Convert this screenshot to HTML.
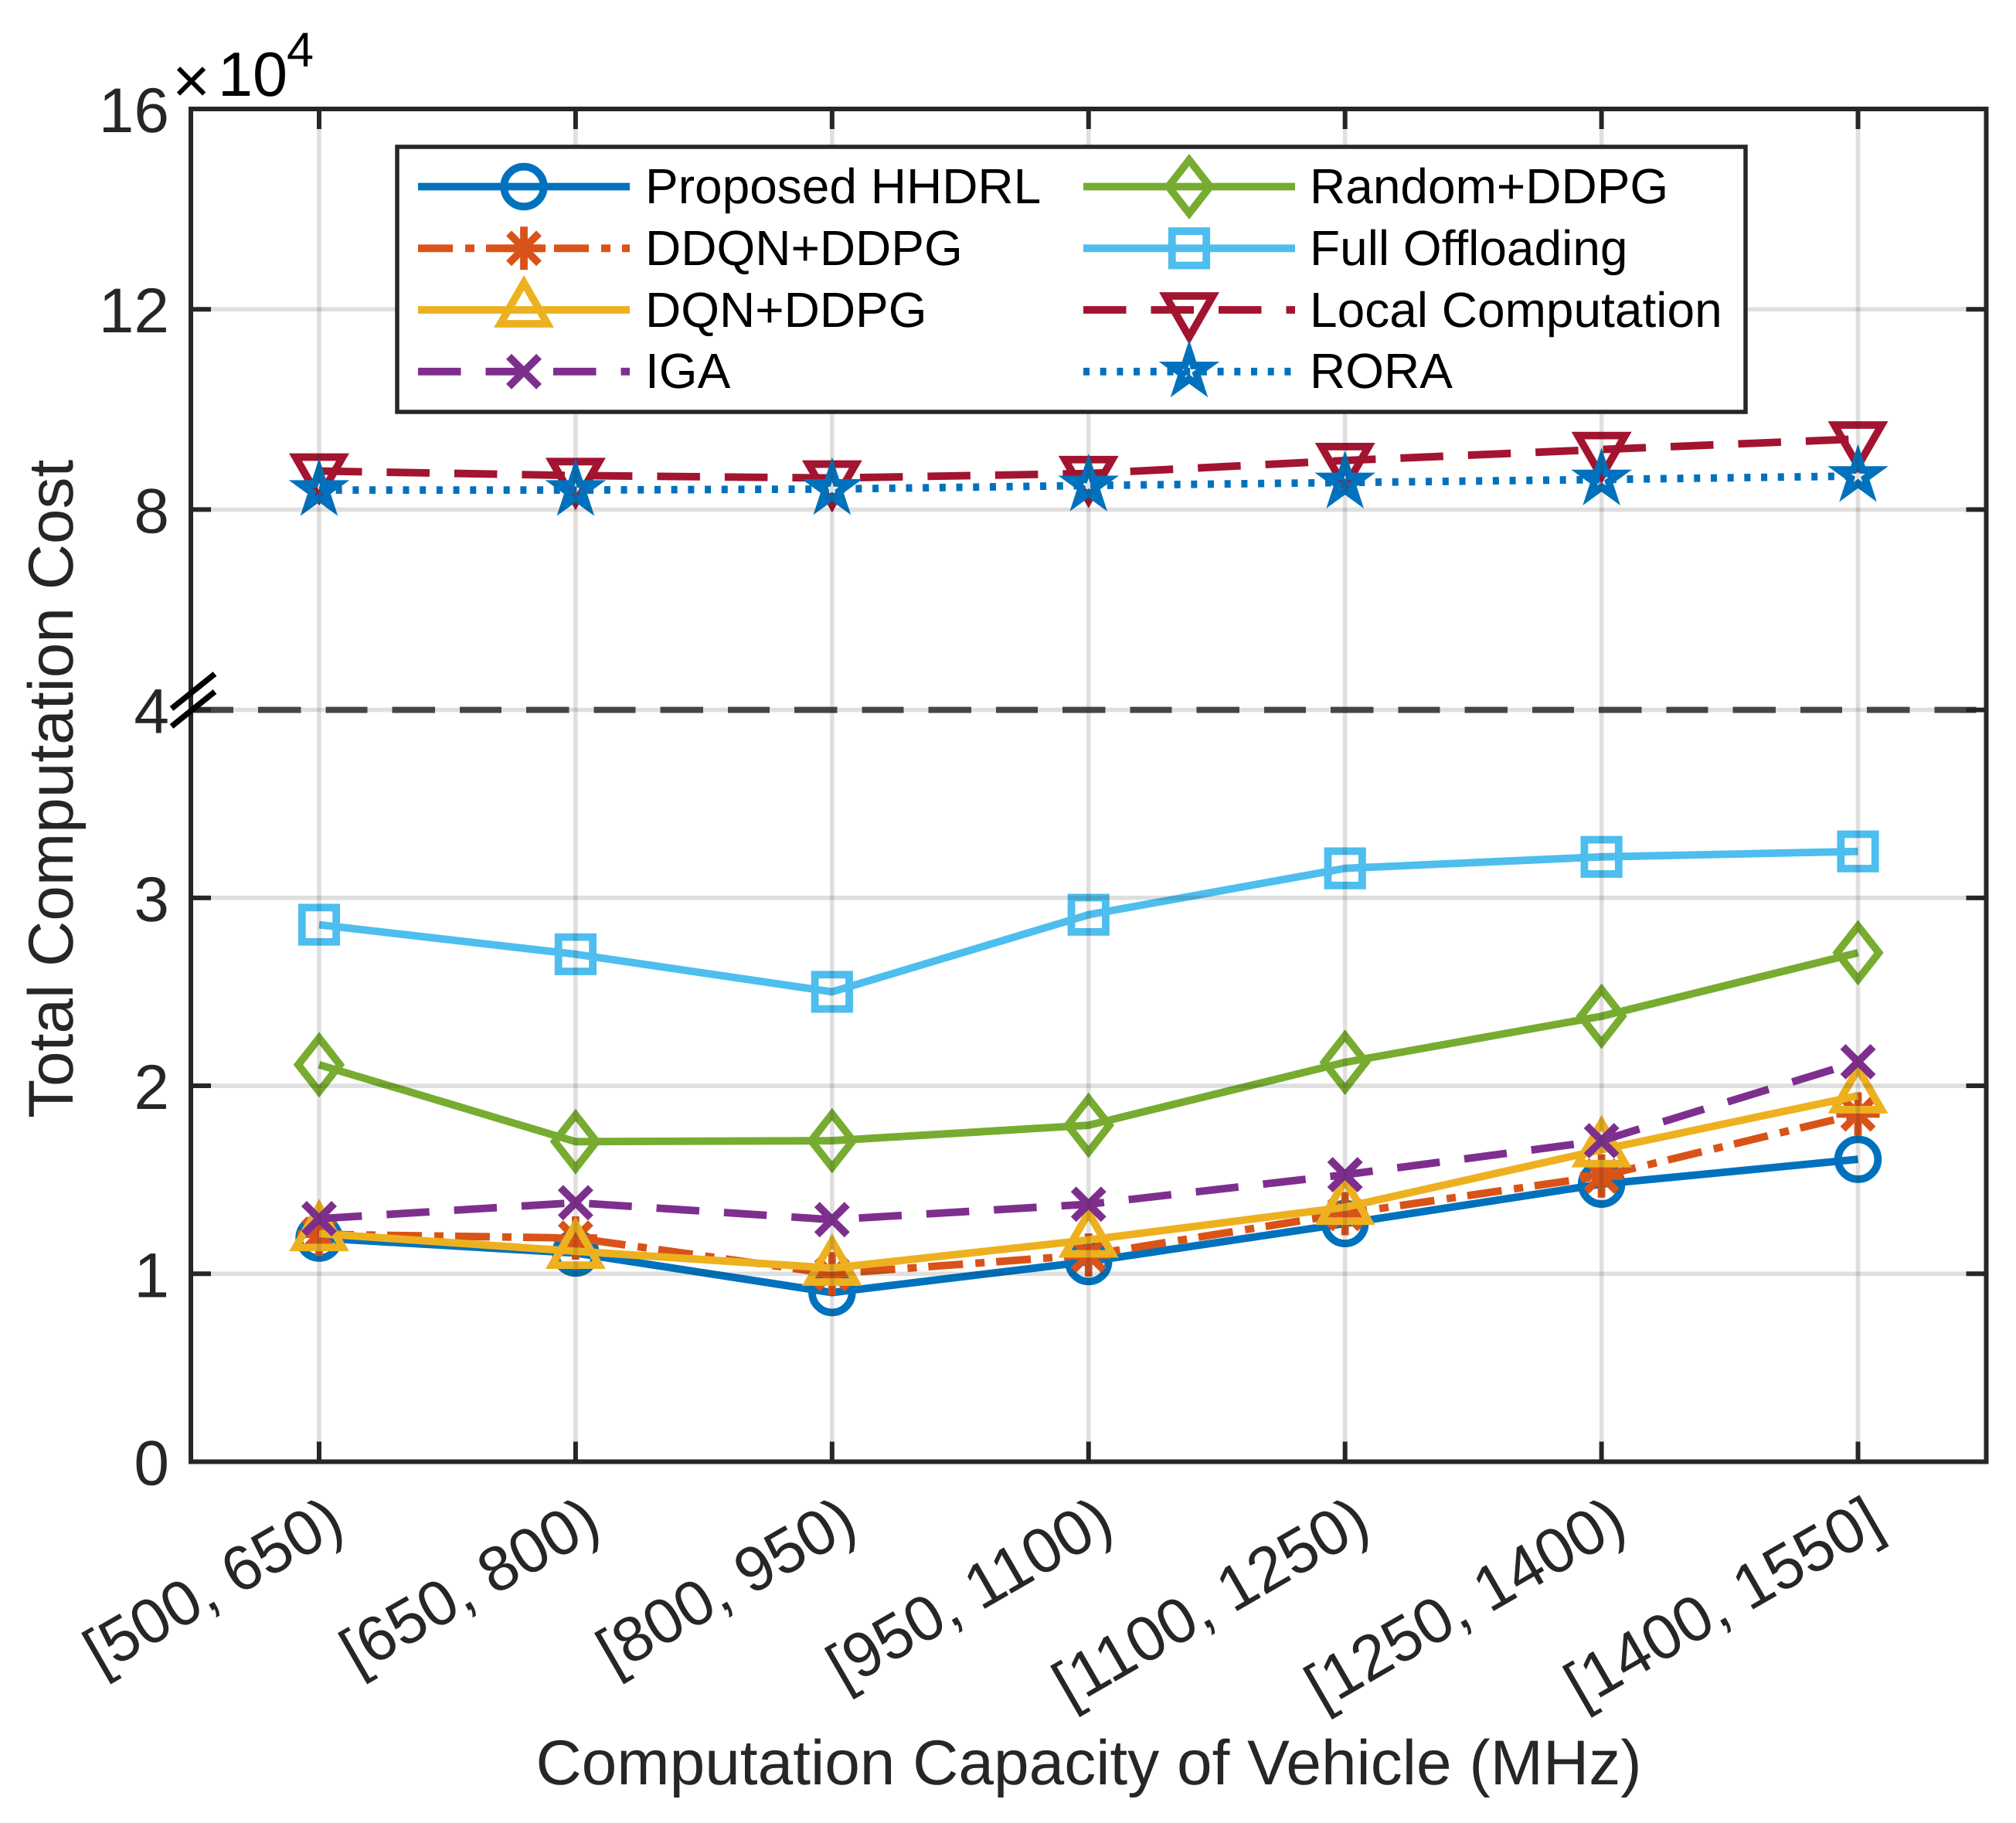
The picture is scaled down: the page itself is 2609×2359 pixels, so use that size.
<!DOCTYPE html>
<html lang="en">
<head>
<meta charset="utf-8">
<title>Total Computation Cost vs Computation Capacity of Vehicle</title>
<style>
html,body{margin:0;padding:0;background:#fff;width:2609px;height:2359px;overflow:hidden}
svg{display:block}
text{font-family:"Liberation Sans",Arial,sans-serif;text-rendering:geometricPrecision}
</style>
</head>
<body>
<svg id="chart" xmlns="http://www.w3.org/2000/svg" width="2609" height="2359" viewBox="0 0 2609 2359">
  <rect x="0" y="0" width="2609" height="2359" fill="#ffffff"/>
  <g id="marks"></g>
  <g id="grid"></g>
  <g id="axes"></g>
  <g id="tick-labels" fill="#262626" font-size="82"></g>

  <g fill="#000000">
    <text x="223" y="133" font-size="84">×</text>
    <text x="282" y="124" font-size="81">10</text>
    <text x="371" y="86" font-size="63">4</text>
  </g>
  <text transform="translate(94 1447) rotate(-90)" text-anchor="start" font-size="82" fill="#262626">Total Computation Cost</text>
  <text x="1409" y="2309" text-anchor="middle" font-size="82" fill="#262626">Computation Capacity of Vehicle (MHz)</text>

  <g>
    <rect x="514" y="190" width="1745" height="343" fill="#ffffff" stroke="#262626" stroke-width="5.5"/>
    <g id="legend-samples"></g>
    <g fill="#000000" font-size="64">
      <text x="835" y="263">Proposed HHDRL</text>
      <text x="835" y="343">DDQN+DDPG</text>
      <text x="835" y="423">DQN+DDPG</text>
      <text x="835" y="502">IGA</text>
      <text x="1695" y="263">Random+DDPG</text>
      <text x="1695" y="343">Full Offloading</text>
      <text x="1695" y="423">Local Computation</text>
      <text x="1695" y="502">RORA</text>
    </g>
  </g>

  <g stroke="#000000" stroke-width="7.5">
    <line x1="222" y1="917" x2="278" y2="872"/>
    <line x1="222" y1="940" x2="278" y2="895"/>
  </g>
</svg>

<script>
// ---- chart data (values in units of 10^4) ----
const categories = ["[500, 650)", "[650, 800)", "[800, 950)", "[950, 1100)", "[1100, 1250)", "[1250, 1400)", "[1400, 1550]"];
const proposedHhdrl = [1.19, 1.11, 0.90, 1.065, 1.267, 1.477, 1.609];
const ddqnDdpg = [1.21, 1.19, 1.00, 1.10, 1.32, 1.52, 1.85];
const dqnDdpg = [1.214, 1.12, 1.03, 1.18, 1.354, 1.66, 1.947];
const iga = [1.293, 1.378, 1.288, 1.37, 1.527, 1.708, 2.128];
const randomDdpg = [2.112, 1.703, 1.708, 1.79, 2.125, 2.37, 2.708];
const fullOffloading = [2.857, 2.70, 2.50, 2.91, 3.157, 3.218, 3.247];
const localComputation = [8.77, 8.68, 8.63, 8.72, 8.98, 9.20, 9.41];
const rora = [8.39, 8.39, 8.41, 8.48, 8.54, 8.60, 8.67];
const yTickValues = [0, 1, 2, 3, 4, 8, 12, 16];
const yTickLabels = ["0", "1", "2", "3", "4", "8", "12", "16"];
const axisBreakValue = [4];

// ---- layout and styling ----
const PLOT = {left: 247, right: 2570.5, top: 141, bottom: 1891.5, breakY: 918.6};
const NS = "http://www.w3.org/2000/svg";

function xScale(i) {
  return PLOT.left + (i + 0.5) * (PLOT.right - PLOT.left) / categories.length;
}
function yScale(v) {
  const brk = axisBreakValue[0];
  const yMax = yTickValues[yTickValues.length - 1];
  if (v <= brk) return PLOT.bottom - v * (PLOT.bottom - PLOT.breakY) / brk;
  return PLOT.breakY - (v - brk) * (PLOT.breakY - PLOT.top) / (yMax - brk);
}
function mk(tag, parent, attrs) {
  const el = document.createElementNS(NS, tag);
  for (const k in attrs) el.setAttribute(k, attrs[k]);
  parent.appendChild(el);
  return el;
}

const LW = 9.8;
function pointsAttr(pts, cx, cy) {
  return pts.map(function (p) { return (cx + p[0]) + "," + (cy + p[1]); }).join(" ");
}
function starPoints() {
  const out = [];
  for (let k = 0; k < 10; k++) {
    const r = k % 2 === 0 ? 25.5 : 25.5 * 0.382;
    const a = -Math.PI / 2 + k * Math.PI / 5;
    out.push([r * Math.cos(a), r * Math.sin(a)]);
  }
  return out;
}
const STAR = starPoints();

function drawMarker(parent, type, cx, cy, color, label) {
  const g = mk("g", parent, {fill: "none", stroke: color, "stroke-width": LW, "stroke-miterlimit": 12});
  
  
  if (type === "circle") {
    mk("circle", g, {cx: cx, cy: cy, r: 25.8});
  } else if (type === "square") {
    mk("rect", g, {x: cx - 22.2, y: cy - 22.2, width: 44.4, height: 44.4});
  } else if (type === "diamond") {
    mk("polygon", g, {points: pointsAttr([[0, -34.5], [27, 0], [0, 34.5], [-27, 0]], cx, cy)});
  } else if (type === "triangle-up") {
    mk("polygon", g, {points: pointsAttr([[0, -35], [30.5, 18], [-30.5, 18]], cx, cy)});
  } else if (type === "triangle-down") {
    mk("polygon", g, {points: pointsAttr([[0, 35], [30.5, -18], [-30.5, -18]], cx, cy)});
  } else if (type === "star") {
    mk("polygon", g, {points: pointsAttr(STAR, cx, cy)});
  } else if (type === "cross") {
    mk("line", g, {x1: cx - 19.5, y1: cy - 19.5, x2: cx + 19.5, y2: cy + 19.5});
    mk("line", g, {x1: cx - 19.5, y1: cy + 19.5, x2: cx + 19.5, y2: cy - 19.5});
  } else if (type === "asterisk") {
    mk("line", g, {x1: cx, y1: cy - 28, x2: cx, y2: cy + 28});
    mk("line", g, {x1: cx - 28, y1: cy, x2: cx + 28, y2: cy});
    mk("line", g, {x1: cx - 19.5, y1: cy - 19.5, x2: cx + 19.5, y2: cy + 19.5});
    mk("line", g, {x1: cx - 19.5, y1: cy + 19.5, x2: cx + 19.5, y2: cy - 19.5});
  }
  return g;
}

const seriesList = [
  {id: "proposed-hhdrl", values: proposedHhdrl, color: "#0072BD", dash: "", marker: "circle"},
  {id: "ddqn-ddpg", values: ddqnDdpg, color: "#D95319", dash: "45 16 12 15", marker: "asterisk"},
  {id: "dqn-ddpg", values: dqnDdpg, color: "#EDB120", dash: "", marker: "triangle-up"},
  {id: "iga", values: iga, color: "#7E2F8E", dash: "55.5 32", marker: "cross"},
  {id: "random-ddpg", values: randomDdpg, color: "#77AC30", dash: "", marker: "diamond"},
  {id: "full-offloading", values: fullOffloading, color: "#4DBEEE", dash: "", marker: "square"},
  {id: "local-computation", values: localComputation, color: "#A2142F", dash: "55.5 32", marker: "triangle-down"},
  {id: "rora", values: rora, color: "#0072BD", dash: "8 13.7", marker: "star"}
];

// ---- break dashed line + series (below the grid, as in the figure) ----
const marks = document.getElementById("marks");
const breakLine = mk("line", marks, {x1: 248, y1: yScale(axisBreakValue[0]), x2: PLOT.right, y2: yScale(axisBreakValue[0]), stroke: "#4a4a4a", "stroke-width": 8, "stroke-dasharray": "54 32 55.5 32", "stroke-dashoffset": 0});



seriesList.forEach(function (s) {
  const g = mk("g", marks, {});
  
  
  const pts = s.values.map(function (v, i) { return xScale(i) + "," + yScale(v); }).join(" ");
  const line = mk("polyline", g, {points: pts, fill: "none", stroke: s.color, "stroke-width": LW, "stroke-linejoin": "round"});
  if (s.dash) line.setAttribute("stroke-dasharray", s.dash);
  
  
  s.values.forEach(function (v, i) {
    drawMarker(g, s.marker, xScale(i), yScale(v), s.color, 'point-' + s.id + '-' + i);
  });
});

// ---- grid (drawn over the data with alpha) ----
const grid = document.getElementById("grid");
categories.forEach(function (c, i) {
  const l = mk("line", grid, {x1: xScale(i), x2: xScale(i), y1: PLOT.top, y2: PLOT.bottom, stroke: "#262626", "stroke-opacity": 0.15, "stroke-width": 5.6});
  
  
});
yTickValues.forEach(function (v, i) {
  if (v === 0 || i === yTickValues.length - 1) return;
  const l = mk("line", grid, {x1: PLOT.left, x2: PLOT.right, y1: yScale(v), y2: yScale(v), stroke: "#262626", "stroke-opacity": 0.15, "stroke-width": 5.6});
  
  
});

// ---- axes ----
const axes = document.getElementById("axes");
const TICK = 26;
categories.forEach(function (c, i) {
  const x = xScale(i);
  const b = mk("line", axes, {x1: x, x2: x, y1: PLOT.bottom, y2: PLOT.bottom - TICK, stroke: "#262626", "stroke-width": 6});
  
  
  const t = mk("line", axes, {x1: x, x2: x, y1: PLOT.top, y2: PLOT.top + TICK, stroke: "#262626", "stroke-width": 6});
  
  
});
yTickValues.forEach(function (v, i) {
  const y = yScale(v);
  const a = mk("line", axes, {x1: PLOT.left, x2: PLOT.left + TICK, y1: y, y2: y, stroke: "#262626", "stroke-width": 6});
  
  
  const b = mk("line", axes, {x1: PLOT.right, x2: PLOT.right - TICK, y1: y, y2: y, stroke: "#262626", "stroke-width": 6});
  
  
});
const frame = mk("rect", axes, {x: PLOT.left, y: PLOT.top, width: PLOT.right - PLOT.left, height: PLOT.bottom - PLOT.top, fill: "none", stroke: "#262626", "stroke-width": 6});



// ---- tick labels ----
const labels = document.getElementById("tick-labels");
yTickValues.forEach(function (v, i) {
  const t = mk("text", labels, {x: 219, y: yScale(v) + 30, "text-anchor": "end"});
  t.textContent = yTickLabels[i];
  
  
});
categories.forEach(function (c, i) {
  const t = mk("text", labels, {"text-anchor": "end", transform: "translate(" + (xScale(i) + 36.6) + " 1983) rotate(-30)"});
  t.textContent = c;
  
  
});

// ---- legend samples ----
const legendGroup = document.getElementById("legend-samples");
const legendRowYs = [241.5, 321.3, 401, 480.8];
seriesList.forEach(function (s, i) {
  const col = i < 4 ? 0 : 1;
  const y = legendRowYs[i % 4];
  const x1 = col === 0 ? 541 : 1402;
  const x2 = x1 + 274;
  const g = mk("g", legendGroup, {});
  
  
  const l = mk("line", g, {x1: x1, x2: x2, y1: y, y2: y, stroke: s.color, "stroke-width": LW});
  if (s.dash) l.setAttribute("stroke-dasharray", s.dash);
  
  
  drawMarker(g, s.marker, (x1 + x2) / 2, y, s.color, 'legend-marker-' + s.id);
});
</script>
</body>
</html>
